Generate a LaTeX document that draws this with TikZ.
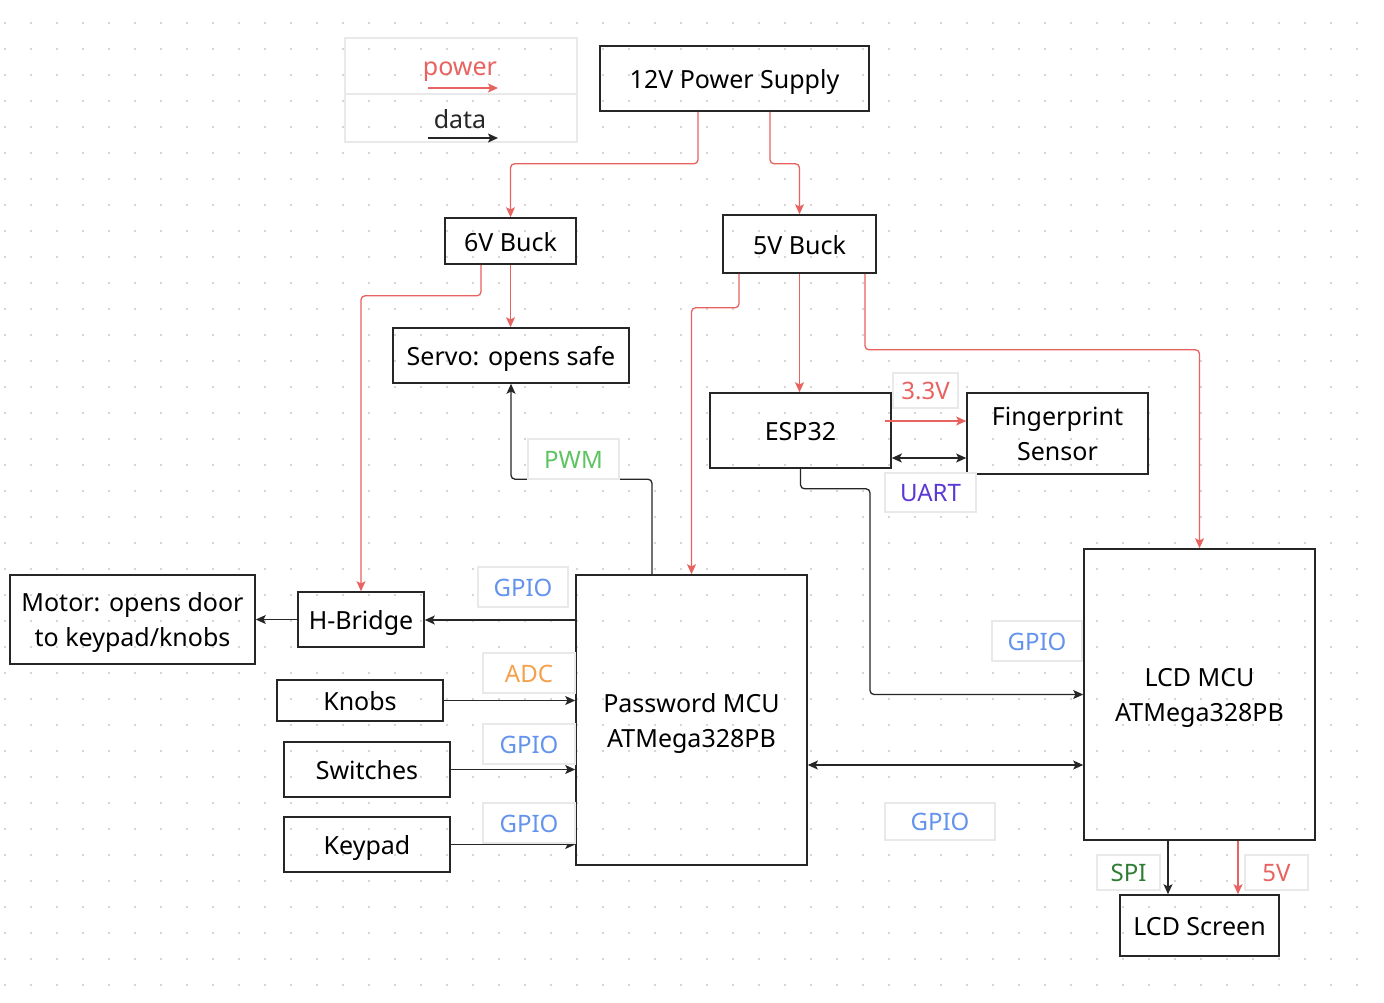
\documentclass[tikz,border=0pt]{standalone}
\usepackage{fontspec}
\setmainfont{Noto Sans}
\usetikzlibrary{arrows.meta,calc}
\definecolor{pwr}{HTML}{E8625F}
\definecolor{dk}{HTML}{262626}
\definecolor{gpio}{HTML}{6393EC}
\definecolor{pwmc}{HTML}{5CC460}
\definecolor{adcc}{HTML}{F4A04C}
\definecolor{uartc}{HTML}{5B38D4}
\definecolor{spic}{HTML}{2F7D33}
\definecolor{lblb}{HTML}{E9E9E9}
\definecolor{dotc}{HTML}{C8C8C8}
\newcommand{\twolines}[2]{\raisebox{0pt}[10pt][26pt]{\begin{tabular}[t]{@{}c@{}}#1\\#2\end{tabular}}}
\tikzset{
  box/.style={draw=dk,line width=1.6pt,inner sep=0pt,text=black,font=\fontsize{25}{35}\selectfont},
  one/.style={text height=26pt,text depth=6pt},
  lbl/.style={draw=lblb,fill=white,line width=1.5pt,inner sep=0pt,text height=24pt,text depth=6pt,font=\fontsize{24}{30}\selectfont},
  tip/.style={-{Stealth[length=10pt,width=9pt,inset=2.2pt]}},
  pw/.style={draw=pwr,line width=1.3pt,tip,rounded corners=4pt},
  dt/.style={draw=dk,line width=1.3pt,tip,rounded corners=4pt},
  dtb/.style={draw=dk,line width=1.3pt,{Stealth[length=10pt,width=9pt,inset=2.2pt]}-{Stealth[length=10pt,width=9pt,inset=2.2pt]}},
}
\begin{document}
\begin{tikzpicture}[x=1pt,y=-1pt]
\useasboundingbox (0,0) rectangle (1384,1002);
\fill[white] (0,0) rectangle (1384,1002);
% dot grid
\foreach \i in {0,...,52}{
  \foreach \j in {0,...,37}{
    \fill[dotc] (5+26*\i,23+26*\j) circle (1.2);
  }
}
% legend
\draw[lblb,line width=1.2pt] (345,38) rectangle (577,94);
\draw[lblb,line width=1.2pt] (345,94) rectangle (577,142);
\node[text=pwr,font=\fontsize{25}{30}\selectfont,anchor=base,inner sep=0pt] (lp) at (460,75) {power};
\node[text=dk,font=\fontsize{25}{30}\selectfont,anchor=base,inner sep=0pt] (ld) at (460,128) {data};
\coordinate (lpa) at (428,88); \coordinate (lpb) at (498,88);
\coordinate (lda) at (428,138); \coordinate (ldb) at (498,138);
\draw[pw] (lpa) -- (lpb);
\draw[dt] (lda) -- (ldb);
% nodes
\node[box,one,minimum width=269,minimum height=65] (ps) at (734.5,78.5) {12V Power Supply};
\node[box,one,minimum width=131,minimum height=46] (b6) at (510.5,241) {6V Buck};
\node[box,one,minimum width=153,minimum height=58] (b5) at (799.5,244) {5V Buck};
\node[box,one,minimum width=236,minimum height=55] (servo) at (511,355.5) {Servo: opens safe};
\node[box,one,minimum width=181,minimum height=75] (esp) at (800.5,430.5) {ESP32};
\node[box,minimum width=181,minimum height=81] (fp) at (1057.5,433.5) {\twolines{Fingerprint}{Sensor}};
\node[box,minimum width=245,minimum height=89] (motor) at (132.5,619.5) {\twolines{Motor: opens door}{to keypad/knobs}};
\node[box,one,minimum width=126,minimum height=55] (hb) at (361,619.5) {H-Bridge};
\node[box,minimum width=231,minimum height=290] (pm) at (691.5,720) {\twolines{Password MCU}{ATMega328PB}};
\node[box,minimum width=231,minimum height=291] (lm) at (1199.5,694.5) {\twolines{LCD MCU}{ATMega328PB}};
\node[box,one,minimum width=166,minimum height=41] (kn) at (360,700.5) {Knobs};
\node[box,one,minimum width=166,minimum height=55] (sw) at (367,769.5) {Switches};
\node[box,one,minimum width=166,minimum height=55] (kp) at (367,844.5) {Keypad};
\node[box,one,minimum width=159,minimum height=61] (lcd) at (1199.5,925.5) {LCD Screen};
% power connectors
\draw[pw] ([xshift=-36.5pt]ps.south) -- ++(0,52) -| (b6.north);
\draw[pw] ([xshift=35.5pt]ps.south) -- ++(0,52) -| (b5.north);
\draw[pw] ([xshift=-29.5pt]b6.south) -- ++(0,31) -| (hb.north);
\draw[pw] (b6.south) -- (b6.south |- servo.north);
\draw[pw] ([xshift=-60.5pt]b5.south) -- ++(0,34) -| (pm.north);
\draw[pw] (b5.south) -- (b5.south |- esp.north);
\draw[pw] ([xshift=65.5pt]b5.south) -- ++(0,76) -| (lm.north);
\draw[pw] ([xshift=-7pt,yshift=9.5pt]esp.east) coordinate (t33) -- (t33 -| fp.west);
\draw[pw] ([xshift=38.5pt]lm.south) -- ([xshift=38.5pt]lm.south |- lcd.north);
% data connectors
\draw[dtb] ([yshift=-27.5pt]esp.east) coordinate (tu) -- (tu -| fp.west);
\draw[dt] (esp.south) -- ++(0,20) -- ++(69.5,0) |- (lm.west);
\draw[dt] ([xshift=-39.5pt]pm.north) -- ++(0,-95) -| (servo.south);
\draw[dt] ([yshift=100pt]pm.west) coordinate (th) -- (th -| hb.east);
\draw[dt] (hb.west) -- (motor.east);
\draw[dt] (kn.east) -- (kn.east -| pm.west);
\draw[dt] (sw.east) -- (sw.east -| pm.west);
\draw[dt] (kp.east) -- (kp.east -| pm.west);
\draw[dtb] ([yshift=-45pt]pm.east) coordinate (tm) -- (tm -| lm.west);
\draw[dt] ([xshift=-31.5pt]lm.south) -- ([xshift=-31.5pt]lm.south |- lcd.north);
% labels
\node[lbl,text=pwr,minimum width=65,minimum height=35] (l33) at (925.5,390.5) {3.3V};
\node[lbl,text=uartc,minimum width=91,minimum height=39] (luart) at (930.5,492.5) {UART};
\node[lbl,text=pwmc,minimum width=91,minimum height=40] (lpwm) at (573.5,459) {PWM};
\node[lbl,text=gpio,minimum width=90,minimum height=40] (lg1) at (523,587) {GPIO};
\node[lbl,text=adcc,minimum width=92,minimum height=40] (ladc) at (529,673) {ADC};
\node[lbl,text=gpio,minimum width=92,minimum height=40] (lg2) at (529,744) {GPIO};
\node[lbl,text=gpio,minimum width=92,minimum height=40] (lg3) at (529,823) {GPIO};
\node[lbl,text=gpio,minimum width=90,minimum height=40] (lg4) at (1037,641) {GPIO};
\node[lbl,text=gpio,minimum width=110,minimum height=37] (lg5) at (940,821.5) {GPIO};
\node[lbl,text=spic,minimum width=63,minimum height=35] (lspi) at (1128.5,872.5) {SPI};
\node[lbl,text=pwr,minimum width=63,minimum height=35] (l5v) at (1276.5,872.5) {5V};
\end{tikzpicture}
\end{document}
